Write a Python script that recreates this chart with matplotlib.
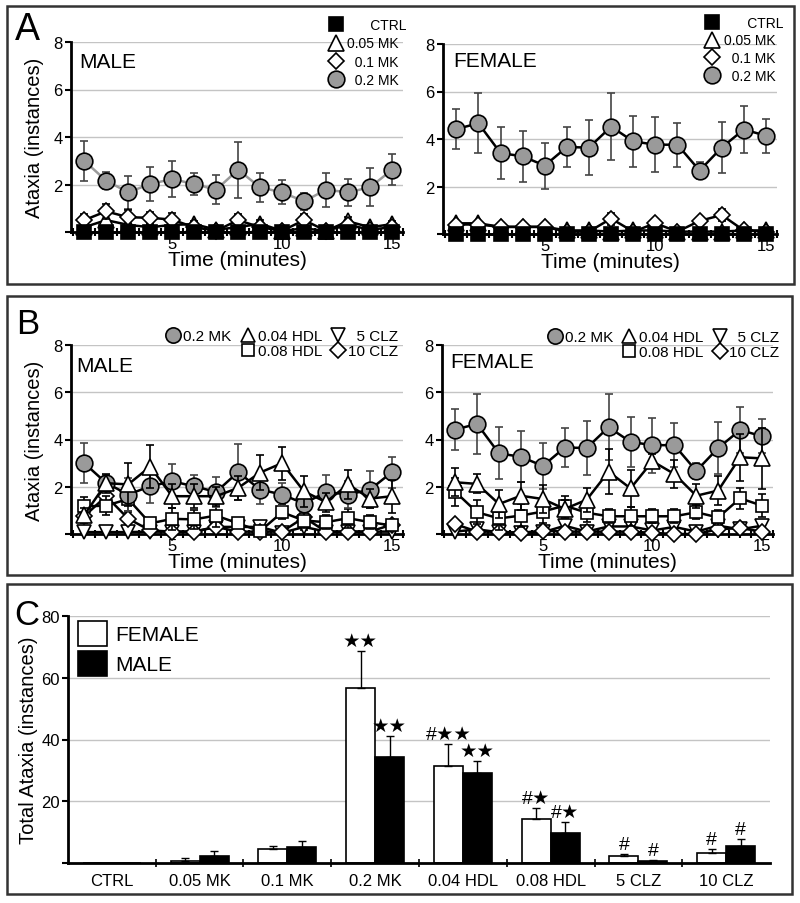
import numpy as np
import matplotlib.pyplot as plt
from matplotlib.patches import Rectangle
from matplotlib.lines import Line2D

plt.rcParams['font.family'] = ['Liberation Sans', 'DejaVu Sans']

minutes = np.arange(1, 16)

# ---- time course data (instances per minute, mean and sem) ----
ctrl_male = [0] * 15
ctrl_female = [0] * 15

mk02_male = [3.0, 2.16, 1.67, 2.02, 2.23, 2.02, 1.78, 2.62, 1.88, 1.67, 1.29, 1.78, 1.67, 1.88, 2.62]
mk02_male_err = [0.85, 0.35, 0.7, 0.72, 0.75, 0.46, 0.62, 1.18, 0.6, 0.5, 0.36, 0.72, 0.57, 0.8, 0.66]
mk01_male = [0.5, 0.87, 0.62, 0.6, 0.52, 0.2, 0.05, 0.5, 0.2, 0.05, 0.5, 0.05, 0.3, 0.1, 0.2]
mk01_male_err = [0.25, 0.32, 0.3, 0.25, 0.3, 0.1, 0.05, 0.25, 0.1, 0.05, 0.25, 0.05, 0.2, 0.1, 0.1]
mk005_male = [0.2, 0.5, 0.3, 0.2, 0.3, 0.33, 0.1, 0.2, 0.35, 0.05, 0.15, 0.05, 0.45, 0.2, 0.33]
mk005_male_err = [0.1, 0.2, 0.15, 0.1, 0.15, 0.15, 0.05, 0.1, 0.15, 0.05, 0.1, 0.05, 0.2, 0.1, 0.15]

mk02_female = [4.42, 4.66, 3.41, 3.27, 2.88, 3.66, 3.64, 4.52, 3.9, 3.76, 3.76, 2.67, 3.64, 4.4, 4.14]
mk02_female_err = [0.85, 1.27, 1.1, 1.08, 0.97, 0.83, 1.16, 1.4, 1.07, 1.16, 0.93, 0.35, 1.08, 0.98, 0.72]
mk01_female = [0.4, 0.4, 0.3, 0.3, 0.3, 0.1, 0.1, 0.65, 0.1, 0.45, 0.1, 0.55, 0.8, 0.15, 0.1]
mk01_female_err = [0.1, 0.1, 0.1, 0.1, 0.1, 0.05, 0.05, 0.25, 0.05, 0.2, 0.05, 0.1, 0.25, 0.1, 0.05]
mk005_female = [0.45, 0.45, 0.3, 0.3, 0.3, 0.15, 0.15, 0.1, 0.15, 0.15, 0.1, 0.1, 0.1, 0.15, 0.15]
mk005_female_err = [0.1, 0.1, 0.1, 0.1, 0.1, 0.05, 0.05, 0.05, 0.05, 0.05, 0.05, 0.05, 0.05, 0.05, 0.05]

hdl004_male = [0.8, 2.15, 2.1, 2.85, 1.6, 1.6, 1.6, 1.95, 2.6, 3.0, 1.8, 1.35, 2.1, 1.5, 1.6]
hdl004_male_err = [0.3, 0.4, 0.9, 0.9, 0.5, 0.5, 0.4, 0.5, 0.75, 0.7, 0.65, 0.4, 0.6, 0.4, 0.7]
hdl008_male = [1.17, 1.2, 1.48, 0.45, 0.64, 0.62, 0.78, 0.45, 0.12, 0.92, 0.57, 0.5, 0.67, 0.5, 0.36]
hdl008_male_err = [0.4, 0.4, 0.5, 0.2, 0.45, 0.4, 0.5, 0.2, 0.15, 0.3, 0.3, 0.3, 0.4, 0.3, 0.2]
clz5_male = [0.08, 0.08, 0.08, 0.1, 0.1, 0.1, 0.3, 0.3, 0.3, 0.05, 0.3, 0.1, 0.1, 0.1, 0.1]
clz5_male_err = [0.05, 0.05, 0.05, 0.05, 0.05, 0.05, 0.15, 0.15, 0.15, 0.05, 0.15, 0.05, 0.05, 0.05, 0.05]
clz10_male = [0.75, 1.6, 0.65, 0.15, 0.1, 0.1, 0.3, 0.1, 0.1, 0.1, 0.7, 0.1, 0.1, 0.1, 0.4]
clz10_male_err = [0.3, 0.3, 0.3, 0.1, 0.05, 0.05, 0.15, 0.05, 0.05, 0.05, 0.3, 0.05, 0.05, 0.05, 0.2]

hdl004_female = [2.19, 2.12, 1.27, 1.62, 1.48, 1.06, 1.45, 2.64, 1.93, 3.08, 2.54, 1.62, 1.84, 3.25, 3.2]
hdl004_female_err = [0.6, 0.4, 0.6, 0.6, 0.6, 0.4, 0.5, 0.95, 0.8, 0.3, 0.6, 0.5, 0.6, 1.0, 1.3]
hdl008_female = [1.79, 0.92, 0.66, 0.78, 0.95, 1.2, 0.9, 0.75, 0.75, 0.75, 0.75, 0.92, 0.7, 1.51, 1.2]
hdl008_female_err = [0.6, 0.5, 0.5, 0.5, 0.5, 0.4, 0.4, 0.3, 0.4, 0.3, 0.3, 0.3, 0.3, 0.45, 0.5]
clz5_female = [0.1, 0.2, 0.07, 0.05, 0.07, 0.35, 0.1, 0.32, 0.32, 0.15, 0.3, 0.1, 0.35, 0.2, 0.35]
clz5_female_err = [0.05, 0.1, 0.05, 0.05, 0.05, 0.15, 0.05, 0.15, 0.15, 0.1, 0.15, 0.05, 0.15, 0.1, 0.15]
clz10_female = [0.42, 0.1, 0.1, 0.05, 0.14, 0.1, 0.1, 0.1, 0.1, 0.05, 0.0, 0.0, 0.2, 0.25, 0.1]
clz10_female_err = [0.15, 0.05, 0.05, 0.05, 0.05, 0.05, 0.05, 0.05, 0.05, 0.05, 0.0, 0.0, 0.1, 0.1, 0.05]

# ---- totals (panel C) ----
groups = ['CTRL', '0.05 MK', '0.1 MK', '0.2 MK', '0.04 HDL', '0.08 HDL', '5 CLZ', '10 CLZ']
female_total = [0, 0.6, 4.5, 56.6, 31.4, 14.2, 2.2, 3.2]
female_sem = [0, 0.9, 1.1, 12.0, 7.1, 3.6, 0.7, 1.3]
male_total = [0, 2.2, 5.3, 34.3, 29.1, 9.7, 0.6, 5.5]
male_sem = [0, 1.6, 1.8, 6.8, 3.9, 3.6, 0.4, 2.3]
female_marks = ['', '', '', '★★', '#★★', '#★', '#', '#']
male_marks = ['', '', '', '★★', '★★', '#★', '#', '#']

GRAY = '#9a9a9a'
W, H = 800, 904
fig = plt.figure(figsize=(8, 9.04), dpi=100)


def axes_px(left, top, right, bottom):
    return fig.add_axes([left / W, 1 - bottom / H, (right - left) / W, (bottom - top) / H])


def frame_px(left, top, right, bottom):
    fig.patches.append(Rectangle((left / W, 1 - bottom / H), (right - left) / W, (bottom - top) / H,
                                 transform=fig.transFigure, fill=False, lw=1.8, ec='#333333'))


def series(ax, y, err, marker, face, ms, line='black', ecolor='black', z=3):
    c = ax.errorbar(minutes, y, yerr=err, fmt='-', marker=marker, color=line, mfc=face, mec='black',
                    ms=ms, mew=1.2, ecolor=ecolor, elinewidth=1.2, capsize=3, capthick=1.2, lw=1.8, zorder=z)
    for a in c.get_children():
        a.set_clip_on(False)


def style_time(ax, ylabel):
    ax.set_xlim(0.4, 15.5)
    ax.set_ylim(0, 8)
    ax.set_yticks([0, 2, 4, 6, 8], ['', '2', '4', '6', '8'])
    ax.set_xticks(minutes, [str(m) if m % 5 == 0 else '' for m in minutes])
    ax.set_xticks(np.arange(0.5, 15.6, 1), minor=True)
    ax.tick_params(axis='x', which='both', direction='inout', length=6, width=1.5, pad=0, labelsize=12)
    ax.tick_params(axis='y', direction='out', length=4, width=1.5, pad=2, labelsize=12)
    for s in ['top', 'right']:
        ax.spines[s].set_visible(False)
    for s in ['left', 'bottom']:
        ax.spines[s].set_linewidth(2)
    ax.yaxis.grid(True, color='#c4c4c4', lw=1)
    ax.set_axisbelow(True)
    ax.set_xlabel('Time (minutes)', fontsize=15, labelpad=-1)
    if ylabel:
        ax.set_ylabel('Ataxia (instances)', fontsize=14.5, labelpad=7)


def handle(marker, face, ms):
    return Line2D([], [], ls='none', marker=marker, mfc=face, mec='black', mew=1.2, ms=ms)


# ---------------- panel A ----------------
frame_px(7, 7, 794, 285)
fig.text(15 / W, 1 - 12 / H, 'A', fontsize=27, va='top', ha='left')

a_handles = [handle('s', 'black', 10), handle('^', 'white', 11), handle('D', 'white', 8.5), handle('o', GRAY, 12)]
a_labels = ['      CTRL', '0.05 MK', '  0.1 MK', '  0.2 MK']

axA1 = axes_px(71, 43, 403, 233)
series(axA1, mk02_male, mk02_male_err, 'o', GRAY, 12, line=GRAY, ecolor='#444444', z=3)
series(axA1, mk005_male, mk005_male_err, '^', 'white', 11, z=4)
series(axA1, mk01_male, mk01_male_err, 'D', 'white', 8.5, z=5)
series(axA1, ctrl_male, [0] * 15, 's', 'black', 10, z=6)
style_time(axA1, True)
axA1.text(0.025, 0.895, 'MALE', transform=axA1.transAxes, fontsize=15, va='center')
axA1.legend(a_handles, a_labels, loc='upper right', bbox_to_anchor=(1.012, 1.125), frameon=False,
            fontsize=10, borderpad=0, borderaxespad=0, handlelength=1.0, handletextpad=0.3,
            labelspacing=0.3)

axA2 = axes_px(443, 45, 777, 235)
series(axA2, mk02_female, mk02_female_err, 'o', GRAY, 12, ecolor='#444444', z=3)
series(axA2, mk005_female, mk005_female_err, '^', 'white', 11, z=4)
series(axA2, mk01_female, mk01_female_err, 'D', 'white', 8.5, z=5)
series(axA2, ctrl_female, [0] * 15, 's', 'black', 10, z=6)
style_time(axA2, False)
axA2.text(0.03, 0.915, 'FEMALE', transform=axA2.transAxes, fontsize=15, va='center')
axA2.legend(a_handles, a_labels, loc='upper right', bbox_to_anchor=(1.018, 1.15), frameon=False,
            fontsize=10, borderpad=0, borderaxespad=0, handlelength=1.0, handletextpad=0.3,
            labelspacing=0.28)

# ---------------- panel B ----------------
frame_px(7, 297, 792, 576)
fig.text(16 / W, 1 - 308 / H, 'B', fontsize=25, va='top', ha='left')

b_handles = [handle('o', GRAY, 11), Line2D([], [], ls='none'), handle('^', 'white', 10),
             handle('s', 'white', 9), handle('v', 'white', 10), handle('D', 'white', 8)]
b_labels = ['0.2 MK', '', '0.04 HDL', '0.08 HDL', '  5 CLZ', '10 CLZ']


def panel_b(ax, mk, mk_err, h4, h4e, h8, h8e, c5, c5e, c10, c10e):
    series(ax, c5, c5e, 'v', 'white', 10, z=3)
    series(ax, c10, c10e, 'D', 'white', 8, z=3)
    series(ax, h8, h8e, 's', 'white', 9, z=4)
    series(ax, mk, mk_err, 'o', GRAY, 12, ecolor='#444444', z=5)
    series(ax, h4, h4e, '^', 'white', 11, z=6)


axB1 = axes_px(71, 346, 403, 535)
panel_b(axB1, mk02_male, mk02_male_err, hdl004_male, hdl004_male_err, hdl008_male, hdl008_male_err,
        clz5_male, clz5_male_err, clz10_male, clz10_male_err)
style_time(axB1, True)
axB1.text(0.015, 0.894, 'MALE', transform=axB1.transAxes, fontsize=15, va='center')
axB1.legend(b_handles, b_labels, ncol=3, loc='upper right', bbox_to_anchor=(0.985, 1.085), frameon=False,
            fontsize=11, borderpad=0, borderaxespad=0, handlelength=0.9, handletextpad=0.2,
            labelspacing=0.1, columnspacing=0.6)

axB2 = axes_px(442, 346, 773, 535)
panel_b(axB2, mk02_female, mk02_female_err, hdl004_female, hdl004_female_err, hdl008_female,
        hdl008_female_err, clz5_female, clz5_female_err, clz10_female, clz10_female_err)
style_time(axB2, False)
axB2.text(0.025, 0.915, 'FEMALE', transform=axB2.transAxes, fontsize=15, va='center')
axB2.legend(b_handles, b_labels, ncol=3, loc='upper right', bbox_to_anchor=(1.02, 1.08), frameon=False,
            fontsize=11, borderpad=0, borderaxespad=0, handlelength=0.9, handletextpad=0.2,
            labelspacing=0.1, columnspacing=0.6)

# ---------------- panel C ----------------
frame_px(7, 585, 792, 895)
fig.text(14 / W, 1 - 599 / H, 'C', fontsize=25, va='top', ha='left')

axC = axes_px(68, 617, 770, 864)
x = np.arange(len(groups))
bw = 0.33
zeros = np.zeros(len(groups))
axC.bar(x - bw / 2, female_total, bw, color='white', edgecolor='black', lw=1.2, label='FEMALE',
        yerr=[zeros, female_sem], error_kw=dict(ecolor='black', elinewidth=1, capsize=3, capthick=1))
axC.bar(x + bw / 2, male_total, bw, color='black', edgecolor='black', lw=1.2, label='MALE',
        yerr=[zeros, male_sem], error_kw=dict(ecolor='black', elinewidth=1, capsize=3, capthick=1))
for i in range(len(groups)):
    if female_marks[i]:
        axC.annotate(female_marks[i], (x[i] - bw / 2, female_total[i] + female_sem[i]),
                     xytext=(0, 7), textcoords='offset points', ha='center', va='center', fontsize=14)
    if male_marks[i]:
        axC.annotate(male_marks[i], (x[i] + bw / 2, male_total[i] + male_sem[i]),
                     xytext=(0, 7), textcoords='offset points', ha='center', va='center', fontsize=14)
axC.set_xlim(-0.5, len(groups) - 0.5)
axC.set_ylim(0, 80)
axC.set_yticks([0, 20, 40, 60, 80], ['', '20', '40', '60', '80'])
axC.set_xticks(x, groups)
axC.set_xticks(np.arange(0.5, len(groups) - 0.5, 1), minor=True)
axC.tick_params(axis='x', which='major', length=0, pad=7, labelsize=12)
axC.tick_params(axis='x', which='minor', direction='inout', length=6, width=1.2)
axC.tick_params(axis='y', direction='out', length=4, width=1.5, pad=2, labelsize=12)
for s in ['top', 'right']:
    axC.spines[s].set_visible(False)
for s in ['left', 'bottom']:
    axC.spines[s].set_linewidth(2)
axC.yaxis.grid(True, color='#c4c4c4', lw=1)
axC.set_axisbelow(True)
axC.set_ylabel('Total Ataxia (instances)', fontsize=14.5, labelpad=2)
axC.legend(loc='upper left', bbox_to_anchor=(0.014, 0.98), frameon=False, fontsize=15,
           handlelength=1.4, handleheight=1.45, handletextpad=0.4, labelspacing=0.25,
           borderpad=0, borderaxespad=0)

fig.savefig('out.png', dpi=100)
